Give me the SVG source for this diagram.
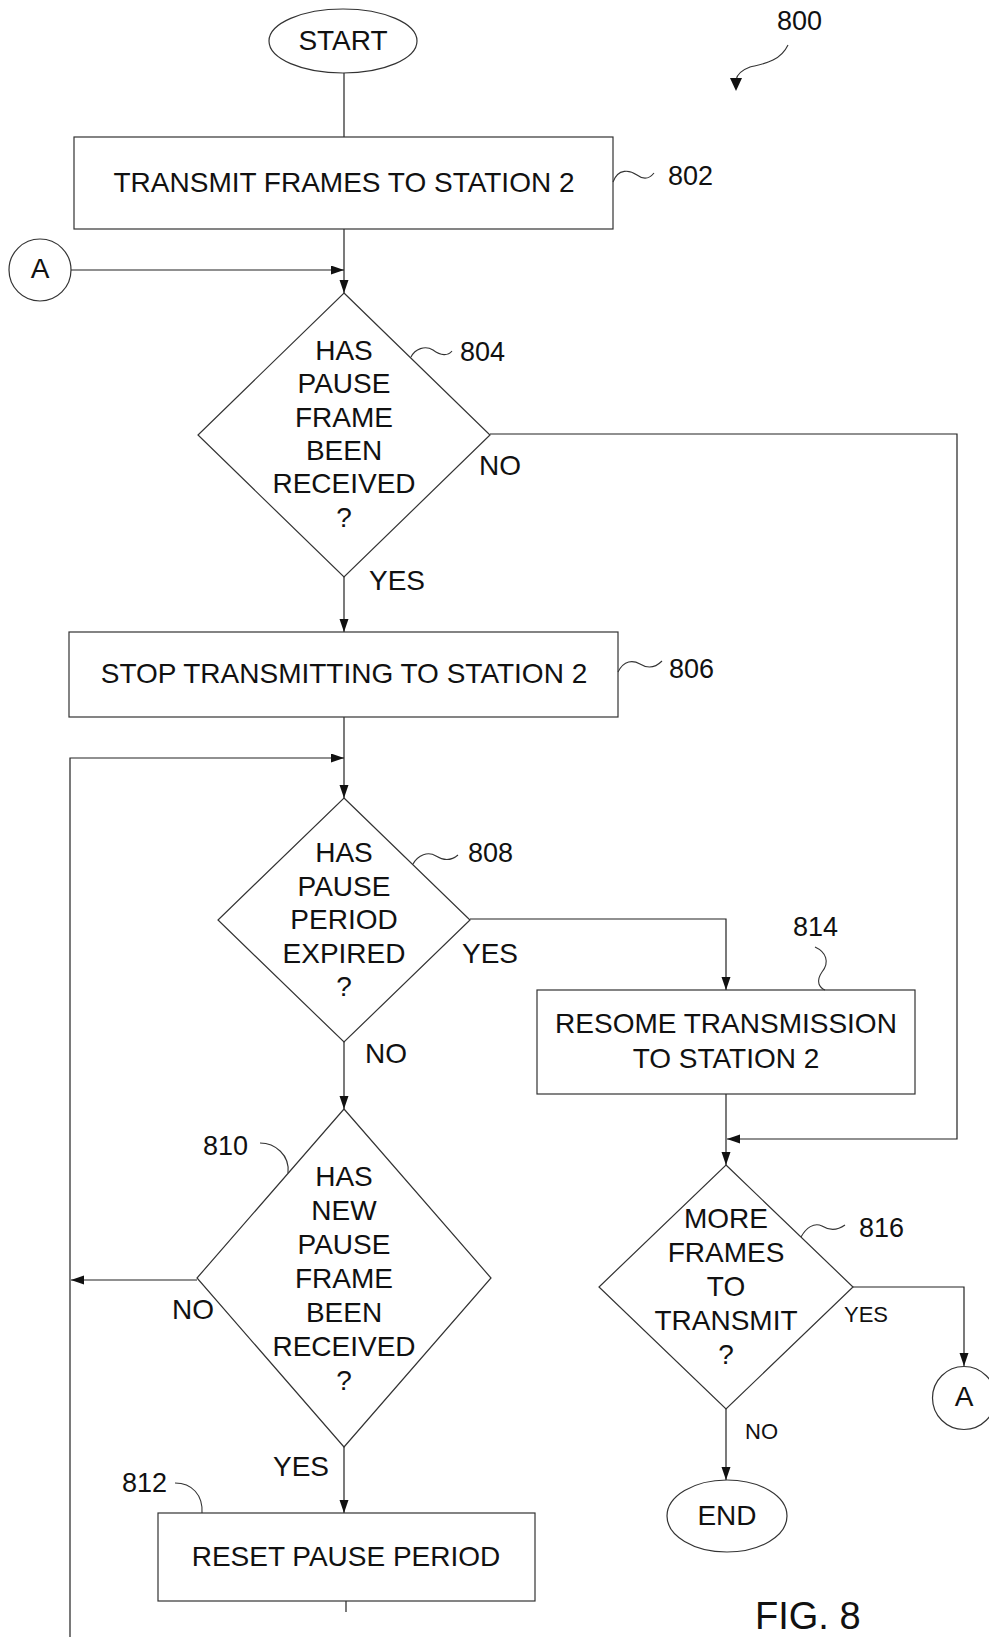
<svg xmlns="http://www.w3.org/2000/svg" width="989" height="1637" viewBox="0 0 989 1637">
<defs>
<marker id="ah" markerWidth="13" markerHeight="10" refX="13" refY="4.5" orient="auto" markerUnits="userSpaceOnUse">
<path d="M0,0 L13,4.5 L0,9 z" fill="#111"/>
</marker>
<style>
.s{fill:#fff;stroke:#333;stroke-width:1.2}
.c{fill:none;stroke:#222;stroke-width:1.2}
.a{fill:none;stroke:#222;stroke-width:1.2;marker-end:url(#ah)}
.q{fill:none;stroke:#333;stroke-width:1.1}
text{font-family:"Liberation Sans",Arial,sans-serif;font-size:28px;fill:#111}
.m{text-anchor:middle}
.n{font-size:27px}
.sm{font-size:22px}
</style>
</defs>
<rect width="989" height="1637" fill="#fff"/>

<g id="connectors">
<line class="c" x1="344" y1="73" x2="344" y2="137"/>
<line class="a" x1="344" y1="229" x2="344" y2="293"/>
<line class="a" x1="71" y1="270" x2="344" y2="270"/>
<line class="a" x1="344" y1="577" x2="344" y2="632"/>
<polyline class="a" points="490,434 957,434 957,1139 727,1139"/>
<line class="a" x1="344" y1="717" x2="344" y2="798"/>
<polyline class="a" points="70,1637 70,758 344,758"/>
<polyline class="a" points="470,919 726,919 726,990"/>
<line class="a" x1="344" y1="1042" x2="344" y2="1109"/>
<line class="a" x1="197" y1="1280" x2="71" y2="1280"/>
<line class="a" x1="344" y1="1447" x2="344" y2="1513"/>
<line class="c" x1="346" y1="1601" x2="346" y2="1612"/>
<line class="a" x1="726" y1="1094" x2="726" y2="1165"/>
<polyline class="a" points="853,1287 964,1287 964,1366"/>
<line class="a" x1="726" y1="1409" x2="726" y2="1480"/>
</g>

<g id="ref800">
<text class="n" x="777" y="30">800</text>
<path class="q" d="M788,45 C780,62 762,64 750,67 C742,70 737,74 736,80"/>
<polygon points="730,78 742,78 736,91" fill="#111"/>
</g>

<g id="start">
<ellipse class="s" cx="343" cy="41" rx="74" ry="32"/>
<text class="m" x="343" y="50">START</text>
</g>

<g id="n802">
<rect class="s" x="74" y="137" width="539" height="92"/>
<text class="m" x="344" y="192">TRANSMIT FRAMES TO STATION 2</text>
<path class="q" d="M613,182 C618,168 630,170 637,175 C645,181 650,178 654,173"/>
<text class="n" x="668" y="185">802</text>
</g>

<g id="connA1">
<circle class="s" cx="40" cy="270" r="31"/>
<text class="m" x="40" y="278">A</text>
</g>

<g id="n804">
<polygon class="s" points="344,293 490,435 344,577 198,435"/>
<text class="m" x="344" y="360">HAS</text>
<text class="m" x="344" y="393.3">PAUSE</text>
<text class="m" x="344" y="426.7">FRAME</text>
<text class="m" x="344" y="460">BEEN</text>
<text class="m" x="344" y="493.3">RECEIVED</text>
<text class="m" x="344" y="527">?</text>
<path class="q" d="M411,357 C415,349 425,345 433,350 C441,356 448,356 452,351"/>
<text class="n" x="460" y="361">804</text>
<text x="479" y="475">NO</text>
<text x="369" y="590">YES</text>
</g>

<g id="n806">
<rect class="s" x="69" y="632" width="549" height="85"/>
<text class="m" x="344" y="683">STOP TRANSMITTING TO STATION 2</text>
<path class="q" d="M618,672 C624,660 633,660 640,664 C648,669 655,668 662,661"/>
<text class="n" x="669" y="678">806</text>
</g>

<g id="n808">
<polygon class="s" points="344,798 470,920 344,1042 218,920"/>
<text class="m" x="344" y="862">HAS</text>
<text class="m" x="344" y="895.5">PAUSE</text>
<text class="m" x="344" y="929">PERIOD</text>
<text class="m" x="344" y="962.5">EXPIRED</text>
<text class="m" x="344" y="996">?</text>
<path class="q" d="M413,864 C418,855 428,851 436,856 C444,861 451,861 458,855"/>
<text class="n" x="468" y="862">808</text>
<text x="462" y="963">YES</text>
<text x="365" y="1063">NO</text>
</g>

<g id="n814">
<rect class="s" x="537" y="990" width="378" height="104"/>
<text class="m" x="726" y="1033">RESOME TRANSMISSION</text>
<text class="m" x="726" y="1068">TO STATION 2</text>
<path class="q" d="M815,947 C826,952 830,962 822,972 C815,982 820,988 825,990"/>
<text class="n" x="793" y="936">814</text>
</g>

<g id="n810">
<polygon class="s" points="344,1109 491,1278 344,1447 197,1278"/>
<text class="m" x="344" y="1186">HAS</text>
<text class="m" x="344" y="1220">NEW</text>
<text class="m" x="344" y="1254">PAUSE</text>
<text class="m" x="344" y="1288">FRAME</text>
<text class="m" x="344" y="1322">BEEN</text>
<text class="m" x="344" y="1356">RECEIVED</text>
<text class="m" x="344" y="1390">?</text>
<path class="q" d="M260,1143 C275,1143 290,1155 288,1173"/>
<text class="n" x="203" y="1155">810</text>
<text x="172" y="1319">NO</text>
<text x="273" y="1476">YES</text>
</g>

<g id="n812">
<rect class="s" x="158" y="1513" width="377" height="88"/>
<text class="m" x="346" y="1566">RESET PAUSE PERIOD</text>
<path class="q" d="M175,1483 C192,1483 203,1495 202,1513"/>
<text class="n" x="122" y="1492">812</text>
</g>

<g id="n816">
<polygon class="s" points="726,1165 853,1287 726,1409 599,1287"/>
<text class="m" x="726" y="1228">MORE</text>
<text class="m" x="726" y="1262">FRAMES</text>
<text class="m" x="726" y="1296">TO</text>
<text class="m" x="726" y="1330">TRANSMIT</text>
<text class="m" x="726" y="1364">?</text>
<path class="q" d="M801,1237 C806,1228 814,1222 822,1226 C830,1231 838,1230 845,1225"/>
<text class="n" x="859" y="1237">816</text>
<text class="sm" x="844" y="1322">YES</text>
<text class="sm" x="745" y="1439">NO</text>
</g>

<g id="connA2">
<circle class="s" cx="964" cy="1398" r="31.5"/>
<text class="m" x="964" y="1406">A</text>
</g>

<g id="end">
<ellipse class="s" cx="727" cy="1516" rx="60" ry="36"/>
<text class="m" x="727" y="1525">END</text>
</g>

<text x="755" y="1629" style="font-size:38px">FIG. 8</text>
</svg>
